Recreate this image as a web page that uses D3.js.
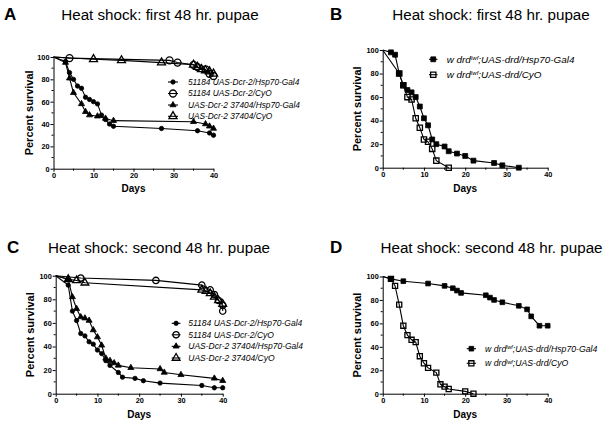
<!DOCTYPE html>
<html><head><meta charset="utf-8">
<script src="https://cdn.jsdelivr.net/npm/d3@7/dist/d3.min.js"></script>
<style>
body{margin:0;background:#fff}
svg{display:block}
text{font-family:Arial,"Liberation Sans",sans-serif;fill:#000}
</style>
</head><body>
<svg id="chart" width="604" height="426"></svg>
<script>
// ---------- data ----------
const xTicks = [0, 10, 20, 30, 40];
const yTicks = [0, 20, 40, 60, 80, 100];
const xMinor = [5, 15, 25, 35];
const yMinor = [10, 30, 50, 70, 90];
const panelLetters = ["A", "B", "C", "D"];
const panelTitles = ["Heat shock: first 48 hr. pupae", "Heat shock: first 48 hr. pupae",
                     "Heat shock: second 48 hr. pupae", "Heat shock: second 48 hr. pupae"];
const xLabel = "Days";
const yLabel = "Percent survival";

// Panel A
const aLabels = ["51184 UAS-Dcr-2/Hsp70-Gal4", "51184 UAS-Dcr-2/CyO", "UAS-Dcr-2 37404/Hsp70-Gal4", "UAS-Dcr-2 37404/CyO"];
const a1Days = [0,3,4,5,6,7,8,9,10,11,12,13,14,15,27,36,39,40];
const a1Vals = [100,96,86,80,74,72,64,62,60,58,48,44,40,38,36,34,32,30];
const a2Days = [0,4,29,31,35,36,38,39,40];
const a2Vals = [100,99,97,95,93,91,89,85,83];
const a3Days = [0,3,4,5,7,8,9,11,13,15,35,38,39,40];
const a3Vals = [100,95,81,68,58,51,48,47,45,43,42,40,38,36];
const a4Days = [0,10,17,27,35,36,37,38,39,40];
const a4Vals = [100,98,97,95,93,91,89,88,87,85];

// Panel B
const bLabels = [["w drd", "lwf", ";UAS-drd/Hsp70-Gal4"], ["w drd", "lwf", ";UAS-drd/CyO"]];
const b1Days = [0,2,3,4,5,6,7,8,9,10,11,12,13,15,16,18,20,22,27,29,33];
const b1Vals = [100,98,96,80,70,66,64,60,52,42,36,24,20,18,14,12,10,6,4,2,0];
const b2Days = [0,4,5,6,7,8,9,10,11,12,13,16];
const b2Vals = [100,80,70,60,58,42,34,24,22,16,6,0];

// Panel C
const cLabels = ["51184 UAS-Dcr-2/Hsp70-Gal4", "51184 UAS-Dcr-2/CyO", "UAS-Dcr-2 37404/Hsp70-Gal4", "UAS-Dcr-2 37404/CyO"];
const c1Days = [0,3,4,5,6,7,8,9,10,11,12,13,15,16,19,21,25,35,38,40];
const c1Vals = [100,92,70,62,51,49,44,42,37,34,28,24,18,14,13,11,9,7,5,5];
const c2Days = [0,6,24,35,37,38,39,40,40];
const c2Vals = [100,98,96,92,88,84,79,75,70];
const c3Days = [0,3,4,5,6,7,8,9,10,11,12,13,14,15,18,25,26,30,38,40];
const c3Vals = [100,97,82,72,65,64,62,54,48,41,30,28,26,24,22,21,18,16,13,11];
const c4Days = [0,3,5,7,35,36,37,38,39,40];
const c4Vals = [100,97,96,94,88,87,85,82,79,76];

// Panel D
const dLabels = [["w drd", "lwf", ";UAS-drd/Hsp70-Gal4"], ["w drd", "lwf", ";UAS-drd/CyO"]];
const d1Days = [0,2,5,11,15,17,18,19,25,26,27,29,33,35,36,38,40];
const d1Vals = [100,98,96,94,92,90,88,86,84,82,80,78,75,72,66,58,58];
const d2Days = [0,2,3,4,5,6,7,8,9,10,11,13,14,15,16,20,22];
const d2Vals = [100,98,92,76,58,50,46,44,32,26,22,18,8,6,4,2,0];

// ---------- layout ----------
const panels = [
  {x0:53.5, x1:213.5, y0:168.7, y1:57, letterX:4, titleX:160, titleY:20, ylabX:29, xlabY:192,
   legend:{lx0:168, lx1:178, tx:188, ys:[82,93.5,105,116.3], size:8.3},
   series:[
     {days:a1Days, vals:a1Vals, sym:"circle", open:false, size:15, label:aLabels[0]},
     {days:a2Days, vals:a2Vals, sym:"circle", open:true, size:38, label:aLabels[1]},
     {days:a3Days, vals:a3Vals, sym:"triangle", open:false, size:16, label:aLabels[2]},
     {days:a4Days, vals:a4Vals, sym:"triangle", open:true, size:28, label:aLabels[3]}]},
  {x0:382.7, x1:547.7, y0:167.7, y1:50, letterX:330, titleX:491, titleY:20, ylabX:357, xlabY:192,
   legend:{lx0:429, lx1:437.5, tx:446.7, ys:[59.3,74.7], size:9.9},
   series:[
     {days:b1Days, vals:b1Vals, sym:"square", open:false, size:24, label:bLabels[0]},
     {days:b2Days, vals:b2Vals, sym:"square", open:true, size:28, label:bLabels[1]}]},
  {x0:55.7, x1:222.7, y0:393.7, y1:275.7, letterX:7, titleX:159, titleY:253, ylabX:30, xlabY:418,
   legend:{lx0:171.7, lx1:180.5, tx:188.3, ys:[323.3,334.8,346.3,358], size:8.5},
   series:[
     {days:c1Days, vals:c1Vals, sym:"circle", open:false, size:15, label:cLabels[0]},
     {days:c2Days, vals:c2Vals, sym:"circle", open:true, size:32, label:cLabels[1]},
     {days:c3Days, vals:c3Vals, sym:"triangle", open:false, size:16, label:cLabels[2]},
     {days:c4Days, vals:c4Vals, sym:"triangle", open:true, size:26, label:cLabels[3]}]},
  {x0:382.7, x1:547.7, y0:393.7, y1:276.5, letterX:330, titleX:491.5, titleY:253, ylabX:357, xlabY:418,
   legend:{lx0:466.7, lx1:476, tx:485, ys:[348.7,363.3], size:8.7},
   series:[
     {days:d1Days, vals:d1Vals, sym:"square", open:false, size:22, label:dLabels[0]},
     {days:d2Days, vals:d2Vals, sym:"square", open:true, size:26, label:dLabels[1]}]}
];

const svg = d3.select("#chart");
const symTypes = {circle:d3.symbolCircle, triangle:d3.symbolTriangle, square:d3.symbolSquare};

function drawMarker(g, s, cx, cy) {
  g.append("path")
    .attr("d", d3.symbol().type(symTypes[s.sym]).size(s.size)())
    .attr("transform", `translate(${cx},${cy})`)
    .attr("fill", s.open ? "none" : "#000")
    .attr("stroke", "#000")
    .attr("stroke-width", s.open ? 1.3 : 0.8);
}

function addLabelText(t, label) {
  if (Array.isArray(label)) {
    t.append("tspan").text(label[0]);
    t.append("tspan").attr("dy", "-0.45em").attr("font-size", "0.62em").text(label[1]);
    t.append("tspan").attr("dy", "0.28em").text(label[2]);
  } else {
    t.text(label);
  }
}

panels.forEach((p, i) => {
  const x = d3.scaleLinear().domain([0, 40]).range([p.x0, p.x1]);
  const y = d3.scaleLinear().domain([0, 100]).range([p.y0, p.y1]);
  const g = svg.append("g");

  // panel letter and title
  g.append("text").attr("x", p.letterX).attr("y", p.titleY)
    .attr("font-size", 17).attr("font-weight", "bold").text(panelLetters[i]);
  g.append("text").attr("x", p.titleX).attr("y", p.titleY).attr("text-anchor", "middle")
    .attr("font-size", 15.2).text(panelTitles[i]);

  // axes
  const gx = g.append("g").attr("transform", `translate(0,${p.y0})`)
    .call(d3.axisBottom(x).tickValues(xTicks).tickSize(3).tickSizeOuter(0).tickPadding(1.5));
  const gy = g.append("g").attr("transform", `translate(${p.x0},0)`)
    .call(d3.axisLeft(y).tickValues(yTicks).tickSize(3).tickSizeOuter(0).tickPadding(1));
  [gx, gy].forEach(a => {
    a.selectAll("text").attr("font-size", 7.3).attr("font-weight", "bold")
      .attr("font-family", "Arial, 'Liberation Sans', sans-serif");
    a.selectAll("path,line").attr("stroke", "#000").attr("stroke-width", 1);
  });
  gx.selectAll(".minor").data(xMinor).join("line")
    .attr("x1", d => x(d)).attr("x2", d => x(d)).attr("y1", 0).attr("y2", 2)
    .attr("stroke", "#000");
  gy.selectAll(".minor").data(yMinor).join("line")
    .attr("y1", d => y(d)).attr("y2", d => y(d)).attr("x1", 0).attr("x2", -2)
    .attr("stroke", "#000");

  // axis titles
  g.append("text").attr("x", (p.x0 + p.x1) / 2).attr("y", p.xlabY).attr("text-anchor", "middle")
    .attr("font-size", 10).attr("font-weight", "bold").text(xLabel);
  g.append("text").attr("transform", `translate(${p.ylabX},${(p.y0 + p.y1) / 2}) rotate(-90)`)
    .attr("text-anchor", "middle").attr("dy", "0.35em")
    .attr("font-size", 11).attr("font-weight", "bold").text(yLabel);

  // series
  const line = d3.line().x(d => x(d[0])).y(d => y(d[1]));
  p.series.forEach(s => {
    const pts = s.days.map((d, k) => [d, s.vals[k]]);
    g.append("path").attr("d", line(pts)).attr("fill", "none")
      .attr("stroke", "#000").attr("stroke-width", 1.1);
    const mg = g.append("g");
    pts.slice(1).forEach(d => drawMarker(mg, s, x(d[0]), y(d[1])));
  });

  // legend
  const L = p.legend;
  p.series.forEach((s, k) => {
    const ly = L.ys[k];
    g.append("line").attr("x1", L.lx0).attr("x2", L.lx1).attr("y1", ly).attr("y2", ly)
      .attr("stroke", "#000").attr("stroke-width", 1.1);
    drawMarker(g, s, (L.lx0 + L.lx1) / 2, ly);
    const t = g.append("text").attr("x", L.tx).attr("y", ly).attr("dy", "0.35em")
      .attr("font-size", L.size).attr("font-style", "italic");
    addLabelText(t, s.label);
  });
});
</script>
</body></html>
